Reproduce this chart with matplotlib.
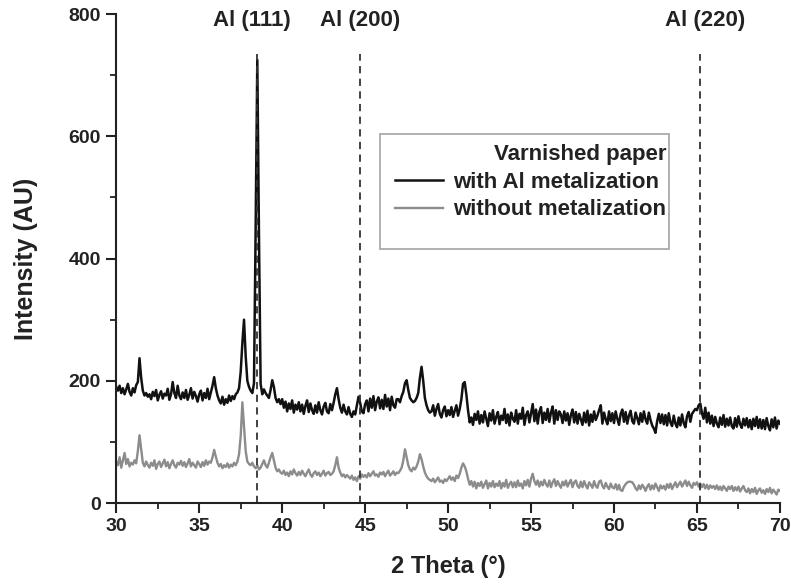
import numpy as np
import matplotlib
matplotlib.use("Agg")
import matplotlib.pyplot as plt
from matplotlib.patches import Rectangle

plt.rcParams['font.family'] = ['Liberation Sans', 'DejaVu Sans']
plt.rcParams['font.weight'] = 'bold'

# 2-theta scan grid: 30.0 .. 70.0 in 0.1 deg steps
two_theta = np.round(np.linspace(30, 70, 401), 1)

with_al = [
    190,184,192,180,188,178,186,195,182,176,
    188,181,193,198,237,205,184,176,180,174,
    178,170,182,175,185,168,177,183,171,179,
    176,187,169,178,198,180,172,192,176,170,
    181,172,185,169,177,188,171,182,175,166,
    178,184,168,180,172,187,170,181,192,206,
    188,176,168,163,174,161,170,164,176,167,
    175,170,178,181,188,215,262,300,240,200,
    190,184,180,196,450,725,440,195,178,186,
    180,176,172,185,201,190,172,165,170,162,
    170,156,166,150,163,154,168,148,161,153,
    165,150,161,146,159,168,149,163,152,146,
    160,148,165,152,145,158,164,150,147,162,
    152,164,178,188,170,156,148,161,150,145,
    157,146,141,150,145,160,174,164,150,147,
    162,168,150,171,156,175,152,166,173,155,
    169,154,177,158,171,152,174,160,156,170,
    170,165,175,182,196,201,185,172,168,165,
    167,172,180,205,223,200,172,160,152,148,
    150,160,143,154,162,146,140,152,158,142,
    152,144,157,141,151,160,143,154,170,195,
    198,178,152,132,140,128,146,136,150,130,
    144,132,150,138,126,147,135,152,130,141,
    149,129,143,136,154,131,145,127,148,138,
    133,152,130,146,138,156,128,144,150,132,
    147,162,134,153,130,149,157,131,148,136,
    154,133,148,158,130,152,136,150,145,131,
    150,135,147,128,144,153,132,149,130,146,
    137,128,148,132,151,127,145,133,150,136,
    143,152,160,130,148,137,129,150,134,147,
    131,150,138,128,146,153,133,149,130,143,
    151,134,130,148,139,129,147,133,150,137,
    130,148,136,127,122,115,134,146,131,145,
    129,144,127,147,132,126,143,130,124,140,
    127,145,131,124,142,149,133,146,150,154,
    152,160,163,147,138,156,132,148,130,143,
    126,141,130,124,140,128,144,125,138,127,
    140,126,122,139,125,142,129,123,138,127,
    139,124,136,121,138,126,141,123,137,122,
    136,121,139,126,119,137,124,140,122,135,
    130,
]

without_met = [
    68,62,75,58,70,82,64,72,60,66,
    63,70,65,85,111,88,66,60,68,62,
    58,66,61,70,56,64,68,59,65,71,
    60,67,57,64,70,62,58,66,63,69,
    61,67,59,65,72,60,66,62,58,68,
    64,59,67,61,70,63,68,66,75,87,
    76,66,60,64,57,62,59,65,58,63,
    60,66,62,68,80,110,165,125,85,68,
    64,62,66,60,57,62,55,58,64,70,
    62,58,66,75,82,70,58,52,55,50,
    48,53,46,50,44,52,47,55,49,45,
    51,46,53,48,44,50,55,47,43,49,
    52,46,50,44,48,53,45,49,51,46,
    48,52,62,75,58,50,44,47,42,46,
    43,40,45,38,42,36,44,40,47,43,
    46,42,49,44,48,52,45,47,43,50,
    47,51,44,49,53,45,48,52,46,50,
    49,53,58,70,88,75,62,55,52,58,
    55,60,68,80,72,60,50,44,40,38,
    36,40,34,38,42,35,37,33,39,36,
    40,44,38,42,36,45,41,48,58,65,
    60,52,40,30,36,27,35,24,33,28,
    35,25,31,37,24,33,27,36,26,32,
    28,36,24,33,27,38,25,31,35,26,
    34,26,37,28,32,24,36,29,38,27,
    40,48,36,30,37,27,35,29,38,31,
    27,37,26,34,39,28,36,30,25,35,
    29,37,27,33,38,26,34,37,28,25,
    35,26,36,29,24,34,30,25,36,28,
    25,35,37,28,24,33,27,23,32,26,
    24,31,22,30,21,20,27,31,34,35,
    35,34,30,24,21,29,23,30,26,20,
    27,31,22,29,23,32,26,20,29,24,
    28,22,31,25,32,23,29,34,26,31,
    35,27,32,37,28,35,29,25,33,30,
    34,27,32,26,31,24,30,23,29,25,
    28,23,29,22,27,21,28,24,20,27,
    23,28,20,26,21,27,19,24,28,21,
    18,24,16,23,18,25,15,21,24,17,
    21,15,23,18,25,16,22,18,14,22,
    20,
]

peak_positions = [38.5, 44.7, 65.2]
peak_labels = ["Al (111)", "Al (200)", "Al (220)"]
label_positions = [38.2, 44.7, 65.5]
series_labels = ["with Al metalization", "without metalization"]
legend_title = "Varnished paper"

fig = plt.figure(figsize=(7.91, 5.85), dpi=100)
ax = fig.add_axes([0.147, 0.140, 0.839, 0.836])

l1, = ax.plot(two_theta, with_al, color='#111111', lw=1.8, label=series_labels[0])
l2, = ax.plot(two_theta, without_met, color='#8c8c8c', lw=1.7, label=series_labels[1])

ax.vlines(peak_positions, 0, 735, colors='#333333', linestyles=(0, (4, 3)), lw=1.3)
for xp, lab in zip(label_positions, peak_labels):
    ax.text(xp, 790, lab, ha='center', va='center', fontsize=16, fontweight='bold',
            color='#222222', clip_on=False)

ax.set_xlim(30, 70)
ax.set_ylim(0, 800)
ax.set_xticks(np.arange(30, 71, 5))
ax.set_xticks(np.arange(30, 71, 2.5), minor=True)
ax.set_yticks(np.arange(0, 801, 200))
ax.set_yticks(np.arange(0, 801, 100), minor=True)
for s in ['top', 'right']:
    ax.spines[s].set_visible(False)
for s in ['left', 'bottom']:
    ax.spines[s].set_linewidth(1.5)
    ax.spines[s].set_color('#222222')
ax.tick_params(which='major', direction='out', length=7, width=1.5, labelsize=14,
               colors='#222222', pad=4)
ax.tick_params(which='minor', direction='out', length=4, width=1.3, colors='#222222')
for lbl in ax.get_xticklabels() + ax.get_yticklabels():
    lbl.set_fontweight('bold')

ax.set_xlabel("2 Theta (°)", fontsize=17, fontweight='bold', labelpad=14, color='#222222')
ax.set_ylabel("Intensity (AU)", fontsize=18, fontweight='bold', labelpad=22, color='#222222')

# legend box frame
ax.add_patch(Rectangle((0.3976, 0.519), 0.4355, 0.236, transform=ax.transAxes,
                       fill=False, edgecolor='#aaaaaa', lw=1.3))
leg = ax.legend(handles=[l1, l2], title=legend_title, loc='upper right',
                bbox_to_anchor=(0.829, 0.734), frameon=False, fontsize=16,
                title_fontproperties={'weight': 'bold', 'size': 16},
                handlelength=2.2, handletextpad=0.45, labelspacing=0.3,
                borderpad=0, borderaxespad=0)
leg._legend_box.align = "right"
for t in leg.get_texts():
    t.set_fontweight('bold')
    t.set_color('#222222')
leg.get_title().set_color('#222222')

fig.savefig("out.png", dpi=100)
